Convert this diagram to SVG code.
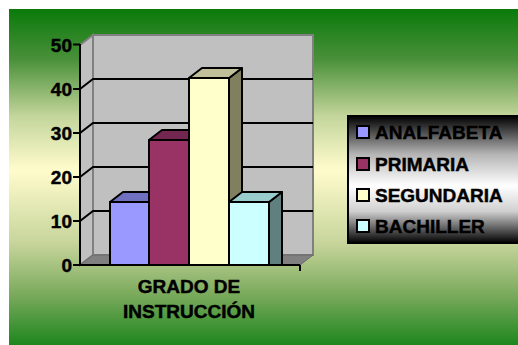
<svg xmlns="http://www.w3.org/2000/svg" width="518" height="345" viewBox="0 0 518 345">
  <defs>
    <linearGradient id="bg" gradientUnits="userSpaceOnUse" x1="0" y1="9" x2="0" y2="345">
      <stop offset="0" stop-color="#0a7a0a"/>
      <stop offset="0.15" stop-color="#4a903a"/>
      <stop offset="0.32" stop-color="#c4d69c"/>
      <stop offset="0.48" stop-color="#fffccc"/>
      <stop offset="0.7" stop-color="#c6d49a"/>
      <stop offset="0.85" stop-color="#7aaa5c"/>
      <stop offset="1" stop-color="#1e861e"/>
    </linearGradient>
    <linearGradient id="lg" gradientUnits="userSpaceOnUse" x1="0" y1="116" x2="0" y2="243">
      <stop offset="0" stop-color="#000000"/>
      <stop offset="0.3" stop-color="#b4b4b4"/>
      <stop offset="0.55" stop-color="#ffffff"/>
      <stop offset="0.75" stop-color="#d0d0d0"/>
      <stop offset="1" stop-color="#000000"/>
    </linearGradient>
    <style>
      .t { font-family: "Liberation Sans", Arial, sans-serif; font-weight: bold; fill: #000; stroke: #000; stroke-width: 0.45; }
      .ax { font-size: 19px; text-anchor: end; }
      .cat { font-size: 19px; text-anchor: middle; }
      .lt { font-size: 19px; }
      .bar { stroke: #000; stroke-width: 2; stroke-linejoin: round; }
      .grid { stroke: #000; stroke-width: 2; fill: none; }
      .sw { stroke: #000; stroke-width: 2; }
    </style>
  </defs>

  <rect x="0" y="0" width="518" height="345" fill="#ffffff"/>
  <rect x="9" y="9" width="509" height="336" fill="url(#bg)"/>

  <g id="plot-area">
    <rect x="93" y="35" width="220" height="220" fill="#c0c0c0" stroke="#808080" stroke-width="2"/>
    <polygon points="80,45 93,35 93,255 80,265" fill="#c0c0c0" stroke="#808080" stroke-width="2"/>
    <polygon points="80,265 93,255 313,255 300,265" fill="#808080" stroke="#6a6a6a" stroke-width="1"/>
    <g class="grid">
      <polyline points="80,221 93,211 313,211"/>
      <polyline points="80,177 93,167 313,167"/>
      <polyline points="80,133 93,123 313,123"/>
      <polyline points="80,89 93,79 313,79"/>
    </g>
  </g>

  <g id="bar-analfabeta">
    <polygon class="bar" points="149,202 162,192 162,265 149,265" fill="#4c4c80"/>
    <polygon class="bar" points="110,202 123,192 162,192 149,202" fill="#7070c0"/>
    <rect class="bar" x="110" y="202" width="39" height="63" fill="#9999ff"/>
  </g>
  <g id="bar-primaria">
    <polygon class="bar" points="189,140 202,130 202,265 189,265" fill="#4c1a33"/>
    <polygon class="bar" points="149,140 162,130 202,130 189,140" fill="#722650"/>
    <rect class="bar" x="149" y="140" width="40" height="125" fill="#993366"/>
  </g>
  <g id="bar-segundaria">
    <polygon class="bar" points="229,78 242,68 242,265 229,265" fill="#808060"/>
    <polygon class="bar" points="189,78 202,68 242,68 229,78" fill="#c0c09a"/>
    <rect class="bar" x="189" y="78" width="40" height="187" fill="#ffffcc"/>
  </g>
  <g id="bar-bachiller">
    <polygon class="bar" points="269,202 282,192 282,265 269,265" fill="#608080"/>
    <polygon class="bar" points="229,202 242,192 282,192 269,202" fill="#99cccc"/>
    <rect class="bar" x="229" y="202" width="40" height="63" fill="#ccffff"/>
  </g>

  <g id="axes" stroke="#000" stroke-width="2" fill="none">
    <line x1="80" y1="44" x2="80" y2="266"/>
    <line x1="79" y1="265" x2="300" y2="265"/>
    <line x1="300" y1="265" x2="300" y2="271"/>
    <line x1="73" y1="44.5" x2="80" y2="44.5"/>
    <line x1="73" y1="89" x2="80" y2="89"/>
    <line x1="73" y1="133" x2="80" y2="133"/>
    <line x1="73" y1="177" x2="80" y2="177"/>
    <line x1="73" y1="221" x2="80" y2="221"/>
    <line x1="73" y1="265" x2="80" y2="265"/>
  </g>

  <g id="axis-labels">
    <text class="t ax" x="72" y="52">50</text>
    <text class="t ax" x="72" y="96">40</text>
    <text class="t ax" x="72" y="140">30</text>
    <text class="t ax" x="72" y="184">20</text>
    <text class="t ax" x="72" y="228">10</text>
    <text class="t ax" x="72" y="272">0</text>
    <text class="t cat" x="189" y="293">GRADO DE</text>
    <text class="t cat" x="189" y="318">INSTRUCCIÓN</text>
  </g>

  <g id="legend">
    <rect x="348" y="116" width="180" height="127" fill="url(#lg)" stroke="#000" stroke-width="2"/>
    <rect class="sw" x="357" y="126" width="12" height="12" fill="#9999ff"/>
    <text class="t lt" x="375" y="138.5">ANALFABETA</text>
    <rect class="sw" x="357" y="158" width="12" height="12" fill="#993366"/>
    <text class="t lt" x="375" y="170.5">PRIMARIA</text>
    <rect class="sw" x="357" y="189" width="12" height="12" fill="#ffffcc"/>
    <text class="t lt" x="375" y="201.5">SEGUNDARIA</text>
    <rect class="sw" x="357" y="220" width="12" height="12" fill="#ccffff"/>
    <text class="t lt" x="375" y="232.5">BACHILLER</text>
  </g>
</svg>
